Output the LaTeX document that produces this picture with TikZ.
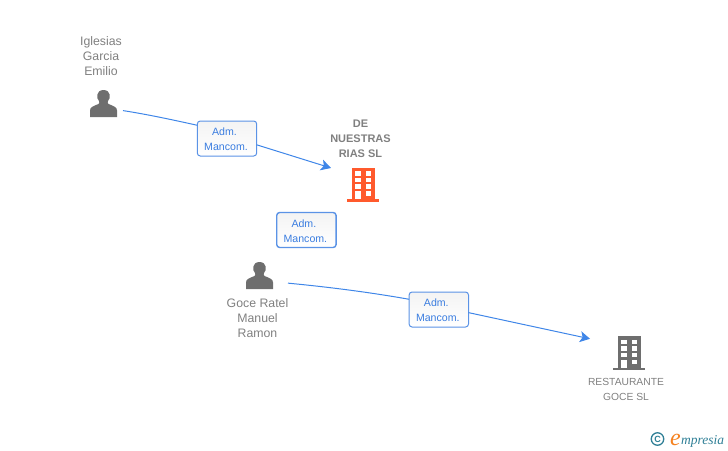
\documentclass[tikz,border=0pt]{standalone}
\usepackage{fontspec}
\setmainfont{Liberation Sans}
\newfontfamily\logofont{Liberation Serif}
\usetikzlibrary{arrows.meta}
\definecolor{linkblue}{HTML}{3F86E8}
\definecolor{boxedge}{HTML}{5B93E6}
\definecolor{boxtext}{HTML}{3A7DE0}
\definecolor{labelgray}{HTML}{808080}
\definecolor{icongray}{HTML}{6E6E6E}
\definecolor{mainorange}{HTML}{FF5A2D}
\definecolor{logoteal}{HTML}{2F7F96}
\definecolor{logoorange}{HTML}{F58220}
\newcommand{\rolelines}{\rule{0pt}{9.6pt}Adm.\hspace*{5pt}\\Mancom.\hspace*{2pt}}
\tikzset{
  x=1pt,y=-1pt,
  iconbox/.style={inner sep=0pt,outer sep=0pt,draw=none},
  rolebox/.style={draw=boxedge,line width=1pt,rounded corners=3pt,top color=gray!9,bottom color=white,
    minimum width=59.4pt,minimum height=35pt,inner sep=0pt,outer sep=0pt,text=boxtext,align=center,
    font=\fontsize{10.6}{15}\selectfont},
  personlabel/.style={text=labelgray,align=center,inner sep=0pt,font=\fontsize{12.3}{15}\selectfont},
  firmlabel/.style={text=labelgray,align=center,inner sep=0pt,font=\fontsize{10.3}{15}\selectfont},
  mainlabel/.style={text=labelgray,align=center,inner sep=0pt,font=\fontsize{11}{15}\selectfont\bfseries},
  link/.style={draw=linkblue,line width=1pt},
  linkend/.style={link,-{Stealth[length=10pt,width=11pt,inset=2.5pt]}},
  pics/personicon/.style={code={
    \fill[icongray] (-13.5,13.5) -- (-13.5,7) .. controls (-13.5,3.5) and (-10,2.5) .. (-5,0.5)
      .. controls (-4,0) and (-4,-1.5) .. (-4.5,-2.5)
      .. controls (-7.5,-5) and (-7.5,-13.5) .. (0,-13.5)
      .. controls (7.5,-13.5) and (7.5,-5) .. (4.5,-2.5)
      .. controls (4,-1.5) and (4,0) .. (5,0.5)
      .. controls (10,2.5) and (13.5,3.5) .. (13.5,7) -- (13.5,13.5) -- cycle;
  }},
  pics/buildingicon/.style={code={
    \fill[#1] (-16,-2.5) rectangle (16,0);
    \fill[#1] (-11.5,-34) rectangle (11.5,-1);
    \foreach \r in {-30.5,-24,-17.5}{
      \fill[white] (-8,\r) rectangle (-2.5,\r+4.6);
      \fill[white] (2.5,\r) rectangle (8,\r+4.6);
    }
    \fill[white] (-8,-10.5) rectangle (-2.5,-2.5);
    \fill[white] (2.5,-10.5) rectangle (8,-5.9);
  }}
}
\begin{document}
\begin{tikzpicture}
\useasboundingbox (0,0) rectangle (728,450);
% icon anchors
\node[iconbox,minimum width=39pt,minimum height=27pt] (iglesias) at (103.5,103.5) {};
\node[iconbox,minimum width=57pt,minimum height=27pt] (goce) at (259.5,275.5) {};
\node[iconbox,minimum width=64pt,minimum height=34pt] (nuestras) at (363,185) {};
\node[iconbox,minimum width=78pt,minimum height=34pt] (restaurante) at (629,353) {};
% icons
\pic at (103.5,103.5) {personicon};
\pic at (259.5,275.5) {personicon};
\pic at (363,201.7) {buildingicon=mainorange};
\pic at (629,370) {buildingicon=icongray};
% labels
\node[personlabel] (iglesiaslabel) at (101,56) {Iglesias\\Garcia\\Emilio};
\node[personlabel] (gocelabel) at (257.5,318) {Goce Ratel\\Manuel\\Ramon};
\node[mainlabel] (nuestraslabel) at (360.5,139) {DE\\NUESTRAS\\RIAS SL};
\node[firmlabel] (restaurantelabel) at (626,389.5) {RESTAURANTE\\GOCE SL};
% role boxes
\node[rolebox] (roleone) at (227,138.5) {\rolelines};
\node[rolebox,line width=1.4pt] (roletwo) at (306.4,230) {\rolelines};
\node[rolebox] (rolethree) at (438.8,309.5) {\rolelines};
% connectors
\draw[link] (iglesias.-20) .. controls (148,114.5) and (172,119.7) .. (roleone.156.4);
\draw[linkend] (roleone.-12.3) -- (nuestras.north west);
\draw[link] (goce.-15) .. controls (328,287) and (368,292) .. (rolethree.161.4);
\draw[linkend] (rolethree.-6.7) -- (restaurante.160.3);
% logo
\node[draw=logoteal,line width=1.3pt,circle,minimum size=12.5pt,inner sep=0pt,text=logoteal,
  font=\fontsize{9}{9}\selectfont\bfseries] (copyright) at (657.5,439) {C};
\node[inner sep=0pt,anchor=base west,text=logoorange,font=\logofont\fontsize{24}{24}\selectfont\itshape] (logoe) at (670,445) {e};
\node[inner sep=0pt,anchor=base west,text=logoteal,font=\logofont\fontsize{13.5}{13.5}\selectfont\itshape] (logotext) at (681,444) {mpresia};
\end{tikzpicture}
\end{document}
